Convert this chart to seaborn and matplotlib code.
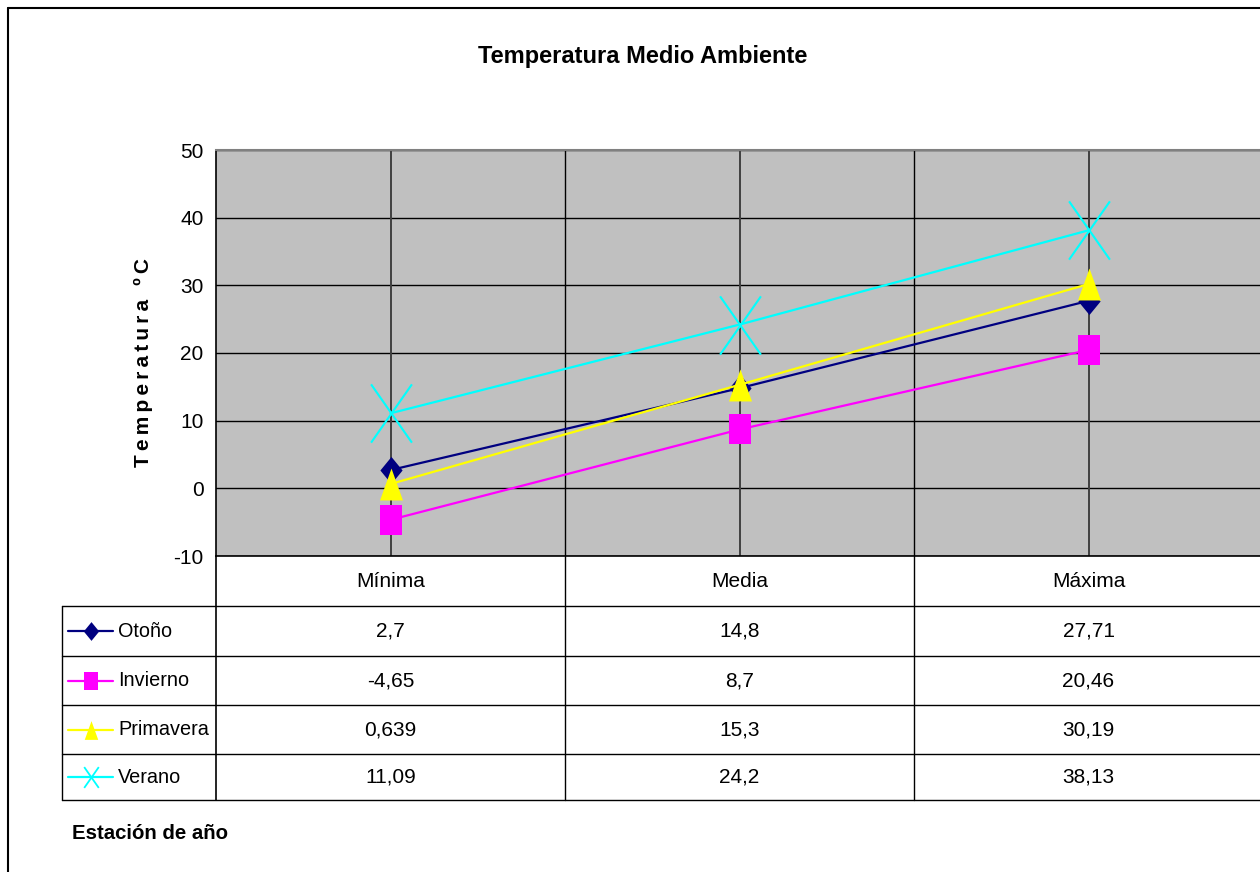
import numpy as np
import pandas as pd
import matplotlib
matplotlib.use("Agg")
import matplotlib.pyplot as plt
import matplotlib.transforms as mtransforms
from matplotlib.path import Path
from matplotlib.lines import Line2D
import seaborn as sns

# ---- data -------------------------------------------------------------
categories = ["Mínima", "Media", "Máxima"]
series_names = ["Otoño", "Invierno", "Primavera", "Verano"]
otono = [2.7, 14.8, 27.71]
invierno = [-4.65, 8.7, 20.46]
primavera = [0.639, 15.3, 30.19]
verano = [11.09, 24.2, 38.13]
y_ticks = [-10, 0, 10, 20, 30, 40, 50]

title = "Temperatura Medio Ambiente"
y_title = "Temperatura ºC"
x_title = "Estación de año"

series_values = [otono, invierno, primavera, verano]
colors = ["#000080", "#FF00FF", "#FFFF00", "#00FFFF"]

# ---- styling ----------------------------------------------------------
sns.set_style("white")
plt.rcParams["font.family"] = ["Liberation Sans", "DejaVu Sans"]
plt.rcParams["text.color"] = "black"
plt.rcParams["ytick.color"] = "black"
plt.rcParams["ytick.labelcolor"] = "black"
plt.rcParams["axes.labelcolor"] = "black"

W, H = 1260, 872
FS = 15


def fx(px):
    return px / W


def fy(py):
    return 1 - py / H


def closed(verts):
    codes = [Path.MOVETO] + [Path.LINETO] * (len(verts) - 1) + [Path.CLOSEPOLY]
    return Path(verts + [verts[0]], codes)


# tall, narrow marker shapes
diamond = closed([(0, 0.5), (0.41, 0), (0, -0.5), (-0.41, 0)])
square = closed([(-0.37, -0.5), (0.37, -0.5), (0.37, 0.5), (-0.37, 0.5)])
triangle = closed([(0, 0.5), (0.36, -0.5), (-0.36, -0.5)])
cross = Path([(-0.35, -0.5), (0.35, 0.5), (-0.35, 0.5), (0.35, -0.5)],
             [Path.MOVETO, Path.LINETO, Path.MOVETO, Path.LINETO])

marker_paths = [diamond, square, triangle, cross]
marker_sizes = [19.5, 21.5, 23.0, 42.0]
legend_sizes = [13.5, 13.0, 13.5, 15.0]
marker_filled = [True, True, True, False]

df = pd.DataFrame({
    "pos": np.tile(np.arange(len(categories)), len(series_names)),
    "value": np.concatenate(series_values),
    "serie": np.repeat(series_names, len(categories)),
})

fig = plt.figure(figsize=(W / 100, H / 100), dpi=100)
fig.patch.set_facecolor("white")

# chart area border
fig.add_artist(Line2D([fx(8), fx(8)], [fy(8), fy(872)], color="black", lw=1.5))
fig.add_artist(Line2D([fx(8), fx(1260)], [fy(8), fy(8)], color="black", lw=1.5))

# ---- plot area --------------------------------------------------------
ax = fig.add_axes([fx(216), fy(556), fx(1263) - fx(216), (556 - 150) / H])
ax.set_facecolor("#C0C0C0")
ax.set_xlim(-0.5, len(categories) - 0.5)
ax.set_ylim(y_ticks[0], y_ticks[-1])

for yv in y_ticks:
    ax.axhline(yv, color="black", lw=1.0, zorder=1)
for i in range(len(categories)):
    ax.axvline(i, color="#404040", lw=1.4, zorder=1)
for b in np.arange(0.5, len(categories) - 0.5):
    ax.axvline(b, color="black", lw=1.0, zorder=1)

for name, col, mk, ms, filled in zip(series_names, colors, marker_paths,
                                     marker_sizes, marker_filled):
    sub = df[df["serie"] == name]
    sns.lineplot(data=sub, x="pos", y="value", ax=ax, color=col, linewidth=1.6,
                 marker=mk, markersize=ms,
                 markerfacecolor=col if filled else "none",
                 markeredgecolor=col, markeredgewidth=0.0 if filled else 1.5,
                 errorbar=None, sort=False, legend=False, zorder=3)

ax.set_xlabel("")
ax.set_ylabel("")
ax.set_xticks([])
ax.set_yticks(y_ticks)
ax.set_yticklabels([str(v) for v in y_ticks], fontsize=FS)
ax.tick_params(axis="y", direction="out", length=5, width=1, color="black",
               labelcolor="black", pad=4)
ax.spines["left"].set_color("black")
ax.spines["bottom"].set_color("black")
ax.spines["left"].set_linewidth(1.2)
ax.spines["bottom"].set_linewidth(1.2)
ax.spines["top"].set_color("#808080")
ax.spines["top"].set_linewidth(1.5)
ax.spines["right"].set_visible(False)

# ---- data table under the plot ---------------------------------------
tab = fig.add_axes([fx(62), fy(800), fx(1263) - fx(62), (800 - 556) / H])
tab.set_xlim(62, 1263)
tab.set_ylim(800, 556)
tab.axis("off")
tab.patch.set_alpha(0)
blend = mtransforms.blended_transform_factory(ax.transData, tab.transData)

rows = [556, 606, 656, 705, 754, 800]
for yb in rows[1:]:
    tab.plot([62, 1263], [yb, yb], color="black", lw=1.0, clip_on=False)
tab.plot([62, 62], [606, 800], color="black", lw=1.0, clip_on=False)
tab.plot([216, 216], [556, 800], color="black", lw=1.2, clip_on=False)
for b in np.arange(0.5, len(categories) - 0.5):
    tab.plot([b, b], [556, 800], color="black", lw=1.0, transform=blend, clip_on=False)

for i, cat in enumerate(categories):
    tab.text(i, (rows[0] + rows[1]) / 2, cat, transform=blend, ha="center",
             va="center", fontsize=FS)

for r, (name, vals, col, mk, ms, filled) in enumerate(
        zip(series_names, series_values, colors, marker_paths, legend_sizes, marker_filled)):
    yc = (rows[r + 1] + rows[r + 2]) / 2
    tab.plot([68, 113], [yc, yc], color=col, lw=1.6, clip_on=False)
    tab.plot([91], [yc], linestyle="none", marker=mk, markersize=ms,
             markerfacecolor=col if filled else "none", markeredgecolor=col,
             markeredgewidth=0.0 if filled else 1.3, clip_on=False)
    tab.text(118, yc, name, ha="left", va="center", fontsize=14.3)
    for i, v in enumerate(vals):
        tab.text(i, yc, str(v).replace(".", ","), transform=blend,
                 ha="center", va="center", fontsize=FS)

# ---- titles -----------------------------------------------------------
fig.text(fx(643), fy(57), title, ha="center", va="center", fontsize=17,
         fontweight="bold")
fig.text(fx(72), fy(833), x_title, ha="left", va="center", fontsize=14.7,
         fontweight="bold")
fig.text(fx(143), fy(362), "\u2009".join(y_title), ha="center", va="center",
         rotation=90, fontsize=15, fontweight="bold")

fig.savefig("out.png", dpi=100)
